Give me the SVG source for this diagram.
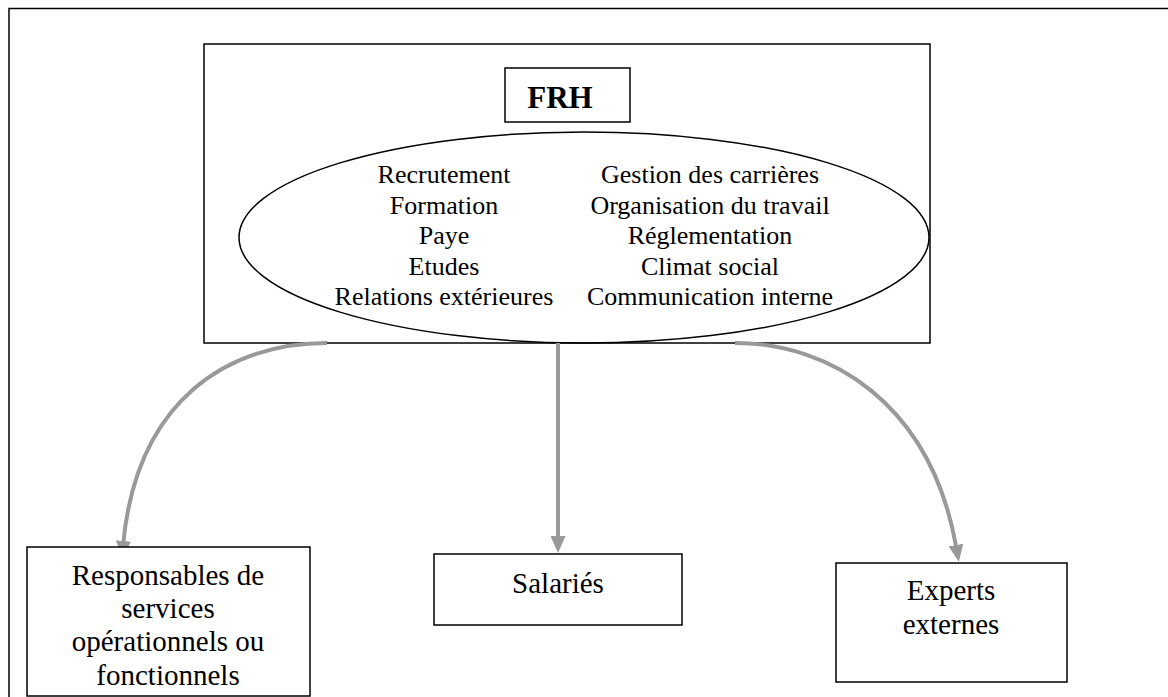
<svg xmlns="http://www.w3.org/2000/svg" width="1168" height="697" viewBox="0 0 1168 697">
<style>
  .box { fill: #ffffff; stroke: #000000; stroke-width: 1.5; }
  .t { font-family: "Liberation Serif", "Times New Roman", serif; fill: #000000; text-anchor: middle; }
  .lst { font-size: 26px; }
  .lbl { font-size: 29px; }
  .conn { fill: none; stroke: #999999; stroke-width: 4; }
</style>
<defs>
  <marker id="arrow" markerUnits="userSpaceOnUse" markerWidth="17" markerHeight="15" viewBox="0 0 17 15" refX="3" refY="7.5" orient="auto">
    <path d="M0,0 L17,7.5 L0,15 z" fill="#999999"/>
  </marker>
</defs>
<rect width="1168" height="697" fill="#ffffff"/>
<g id="frame">
  <path d="M9,697 L9,8.5 L1168,8.5" fill="none" stroke="#000000" stroke-width="1.5"/>
</g>
<g id="frh-container">
  <rect class="box" x="204" y="44" width="726" height="299"/>
</g>
<g id="frh">
  <rect class="box" x="505" y="68" width="125" height="54"/>
  <text class="t" x="560" y="108" font-size="31" font-weight="bold">FRH</text>
</g>
<g id="missions">
  <ellipse cx="584" cy="237.5" rx="345" ry="105.5" fill="none" stroke="#000000" stroke-width="1.5"/>
  <text class="t lst" x="444" y="183">Recrutement</text>
  <text class="t lst" x="444" y="213.5">Formation</text>
  <text class="t lst" x="444" y="244">Paye</text>
  <text class="t lst" x="444" y="274.5">Etudes</text>
  <text class="t lst" x="444" y="305">Relations extérieures</text>
  <text class="t lst" x="710" y="183">Gestion des carrières</text>
  <text class="t lst" x="710" y="213.5">Organisation du travail</text>
  <text class="t lst" x="710" y="244">Réglementation</text>
  <text class="t lst" x="710" y="274.5">Climat social</text>
  <text class="t lst" x="710" y="305">Communication interne</text>
</g>
<g id="connectors">
  <path class="conn" d="M327,343 C230,343 137,398 123.2,544" marker-end="url(#arrow)"/>
  <path class="conn" d="M558,343 L558,539" stroke-width="3.5" marker-end="url(#arrow)"/>
  <path class="conn" d="M735,343 C830,343 931,403 956.4,548" marker-end="url(#arrow)"/>
</g>
<g id="responsables">
  <rect class="box" x="27" y="547" width="283" height="149"/>
  <text class="t lbl" x="168" y="585">Responsables de</text>
  <text class="t lbl" x="168" y="618">services</text>
  <text class="t lbl" x="168" y="651">opérationnels ou</text>
  <text class="t lbl" x="168" y="685">fonctionnels</text>
</g>
<g id="salaries">
  <rect class="box" x="434" y="554" width="248" height="71"/>
  <text class="t lbl" x="558" y="593">Salariés</text>
</g>
<g id="experts">
  <rect class="box" x="836" y="563" width="231" height="119"/>
  <text class="t lbl" x="951" y="600">Experts</text>
  <text class="t lbl" x="951" y="634">externes</text>
</g>
</svg>
